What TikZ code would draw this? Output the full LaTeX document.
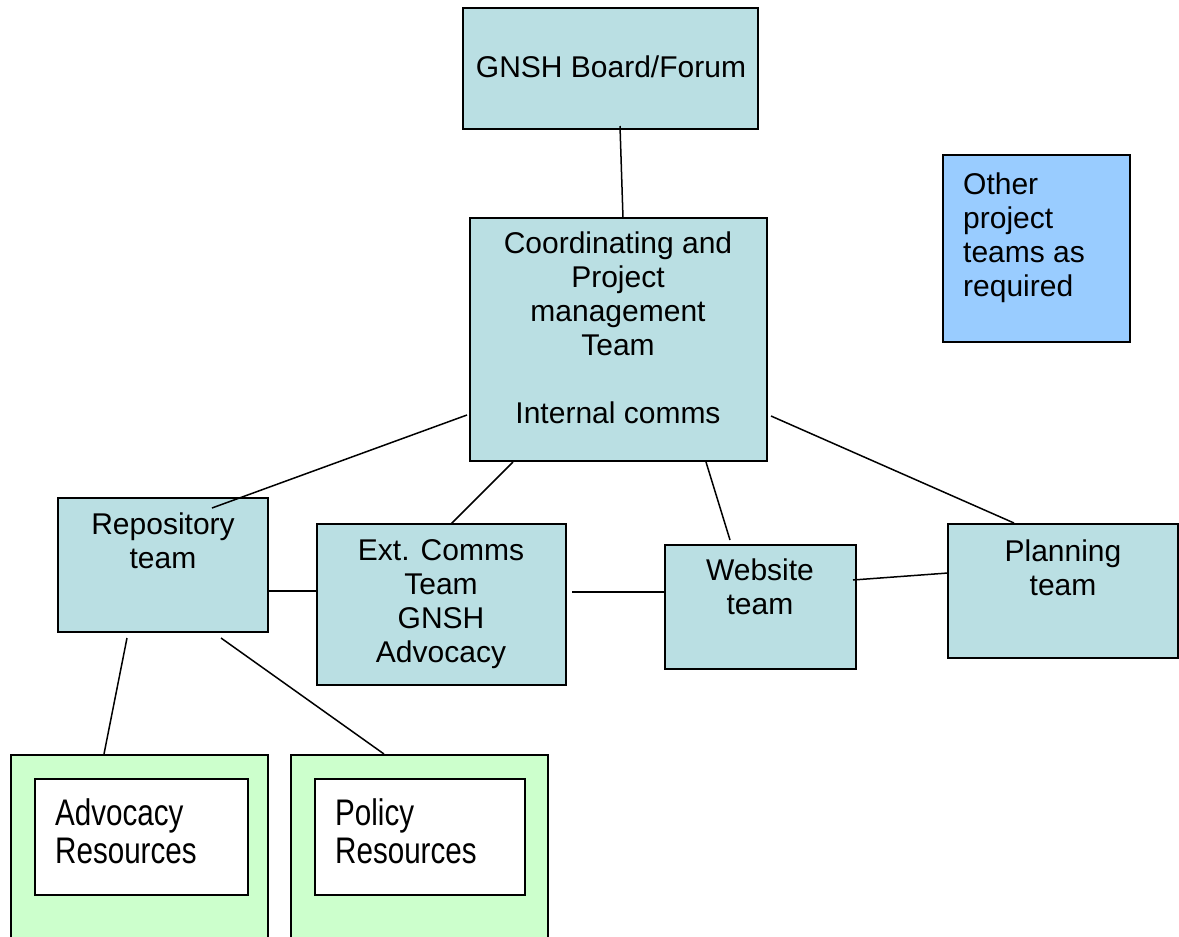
\documentclass[tikz,border=0pt]{standalone}
\usepackage{fontspec}
\setmainfont{Liberation Sans}
\newfontfamily\narrowfont[FakeStretch=0.8]{Liberation Sans}
\usetikzlibrary{calc}
\definecolor{teal1}{RGB}{186,223,227}
\definecolor{blue1}{RGB}{153,204,255}
\definecolor{green1}{RGB}{204,255,204}
\tikzset{
  box/.style={draw=black, line width=1.5pt, inner sep=0pt, outer sep=0pt, anchor=north west},
  lbl/.style={inner sep=0pt, font=\fontsize{30}{34}\selectfont, align=center, anchor=base},
  lbll/.style={inner sep=0pt, font=\fontsize{30}{34}\selectfont, align=left, anchor=base west},
  rlbl/.style={inner sep=0pt, font=\narrowfont\fontsize{37}{38}\selectfont, align=left, anchor=base west},
  conn/.style={draw=black, line width=1.5pt}
}
\begin{document}
\begin{tikzpicture}[x=1pt,y=-1pt]
\clip (0,0) rectangle (1179,937);
\fill[white] (0,0) rectangle (1179,937);
% boxes
\node[box, fill=teal1, minimum width=295pt, minimum height=121pt] (board) at (463,8) {};
\node[box, fill=teal1, minimum width=297pt, minimum height=243pt] (coord) at (470,218) {};
\node[box, fill=blue1, minimum width=187pt, minimum height=187pt] (other) at (943,155) {};
\node[box, fill=teal1, minimum width=210pt, minimum height=134pt] (repo) at (58,498) {};
\node[box, fill=teal1, minimum width=249pt, minimum height=161pt] (ext) at (317,524) {};
\node[box, fill=teal1, minimum width=191pt, minimum height=124pt] (web) at (665,545) {};
\node[box, fill=teal1, minimum width=230pt, minimum height=134pt] (plan) at (948,524) {};
\node[box, fill=green1, minimum width=257pt, minimum height=220pt] (adv) at (11,755) {};
\node[box, fill=white, minimum width=213pt, minimum height=116pt] (advin) at (35,779) {};
\node[box, fill=green1, minimum width=257pt, minimum height=220pt] (pol) at (291,755) {};
\node[box, fill=white, minimum width=210pt, minimum height=116pt] (polin) at (315,779) {};
% texts (anchored at the baseline of the last line)
\node[lbl] (tboard) at (611,77) {GNSH Board/Forum};
\node[lbl] (tcoord) at (618,423) {Coordinating and\\Project\\management\\Team\\[34pt]Internal comms};
\node[lbll] (tother) at (963,296) {Other\\project\\teams as\\required};
\node[lbl] (trepo) at (163,568) {Repository\\team};
\node[lbl] (text) at (441,662) {Ext. Comms\\Team\\GNSH\\Advocacy};
\node[lbl] (tweb) at (760,614) {Website\\team};
\node[lbl] (tplan) at (1063,595) {Planning\\team};
\node[rlbl] (tadv) at (55,863) {Advocacy\\Resources};
\node[rlbl] (tpol) at (335,863) {Policy\\Resources};
% connectors
\draw[conn] ($(board.south west)+(157,-3)$) -- ($(coord.north west)+(153,0)$);
\draw[conn] ($(coord.south west)+(-3,-46)$) -- ($(repo.north west)+(154,10)$);
\draw[conn] ($(coord.south west)+(43,1)$) -- ($(ext.north west)+(134,0)$);
\draw[conn] ($(coord.south west)+(236,1)$) -- ($(web.north west)+(65,-5)$);
\draw[conn] ($(coord.south east)+(4,-45)$) -- ($(plan.north west)+(66,-1)$);
\draw[conn] ($(repo.north east)+(1,93)$) -- ($(ext.north west)+(0,67)$);
\draw[conn] ($(ext.north east)+(6,68)$) -- ($(web.north west)+(0,47)$);
\draw[conn] ($(web.north west)+(188,35)$) -- ($(plan.north west)+(0,49)$);
\draw[conn] ($(repo.south west)+(69,6)$) -- ($(adv.north west)+(93,-1)$);
\draw[conn] ($(repo.south west)+(163,6)$) -- ($(pol.north west)+(93,-1)$);
\end{tikzpicture}
\end{document}
